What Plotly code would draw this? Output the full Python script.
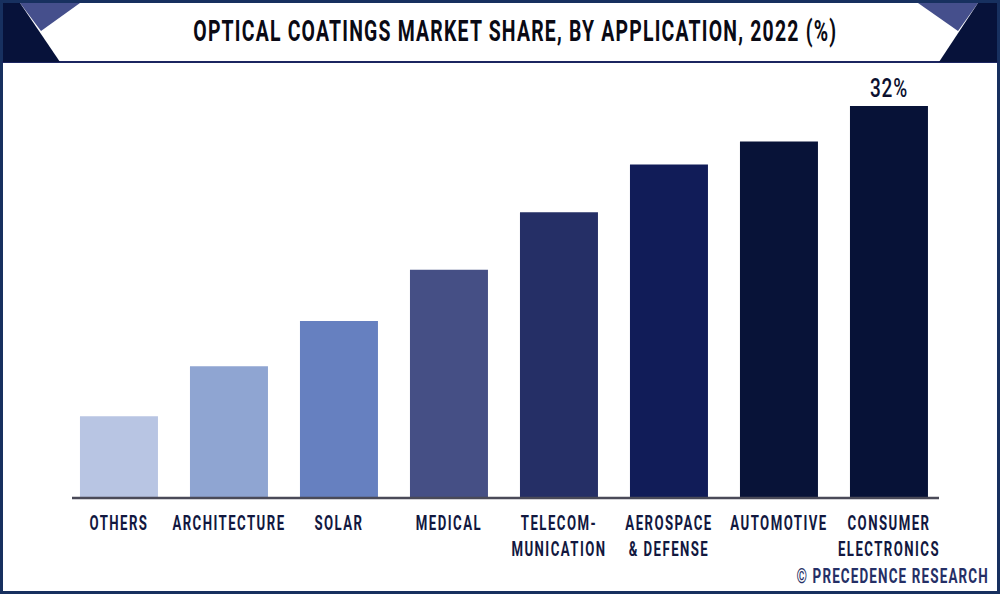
import plotly.graph_objects as go

categories = ["OTHERS", "ARCHITECTURE", "SOLAR", "MEDICAL", "TELECOM-<br>MUNICATION",
              "AEROSPACE<br>& DEFENSE", "AUTOMOTIVE", "CONSUMER<br>ELECTRONICS"]
values = [6.6, 10.7, 14.4, 18.6, 23.3, 27.2, 29.1, 32]
bar_colors = ["#B8C5E3", "#8FA5D2", "#6680C0", "#454F85", "#252F66", "#111C58", "#081338", "#071237"]
value_labels = ["", "", "", "", "", "", "", "32%"]
title_text = "OPTICAL COATINGS MARKET SHARE, BY APPLICATION, 2022 (%)"
credit_text = "© PRECEDENCE RESEARCH"

W, H = 1000, 594
L, R, T, B = 72, 60, 66, 97
FONT = "Roboto"
pw, ph = W - L - R, H - T - B
px = lambda x: (x - L) / pw
py = lambda y: 1 - (y - T) / ph


def poly(points, color):
    path = "M " + " L ".join(f"{px(x):.5f},{py(y):.5f}" for x, y in points) + " Z"
    return dict(type="path", xref="paper", yref="paper", path=path,
                fillcolor=color, line_width=0, layer="above")


def rect(x0, y0, x1, y1, fill, line=None, width=0):
    return dict(type="rect", xref="paper", yref="paper", x0=px(x0), x1=px(x1), y0=py(y0), y1=py(y1),
                fillcolor=fill, line=dict(color=line or fill, width=width), layer="below")


fig = go.Figure(go.Bar(
    x=list(range(len(categories))), y=values, width=0.709,
    marker=dict(color=bar_colors, line_width=0),
    text=value_labels, textposition="outside", cliponaxis=False,
    textfont=dict(family=FONT, size=25, color="#0B1030", weight=500),
))

shapes = [
    rect(1.5, 1.5, 998.5, 592.5, "#FFFFFF", "#17305F", 3),
    dict(type="line", xref="paper", yref="paper", x0=px(2), x1=px(998), y0=py(62), y1=py(62),
         line=dict(color="#1B2560", width=2), layer="above"),
    poly([(20, 3), (80, 3), (41, 31)], "#454F8C"),
    poly([(3, 3), (20, 3), (60, 62), (3, 62)], "#07123A"),
    poly([(918, 3), (978, 3), (958, 31)], "#454F8C"),
    poly([(978, 3), (997, 3), (997, 62), (939, 62)], "#07123A"),
    dict(type="line", xref="paper", yref="paper", x0=px(72), x1=px(939), y0=py(498), y1=py(498),
         line=dict(color="#4A4A58", width=2.4), layer="above"),
]

annotations = [
    dict(xref="paper", yref="paper", x=px(515), y=py(31), text=title_text, showarrow=False,
         font=dict(family=FONT, size=29, color="#0A0A14", weight=700), xanchor="center", yanchor="middle"),
    dict(xref="paper", yref="paper", x=px(892), y=py(576), text=credit_text, showarrow=False,
         font=dict(family=FONT, size=21, color="#252F66", weight=700), xanchor="center", yanchor="middle"),
]

fig.update_layout(
    width=W, height=H, margin=dict(l=L, r=R, t=T, b=B, pad=0),
    paper_bgcolor="#FFFFFF", plot_bgcolor="rgba(0,0,0,0)", showlegend=False,
    shapes=shapes, annotations=annotations,
    xaxis=dict(range=[-0.427, 7.464], tickmode="array", tickvals=list(range(len(categories))),
               ticktext=categories, showgrid=False, zeroline=False, ticks="", showline=False,
               ticklabelstandoff=12,
               tickfont=dict(family=FONT, size=20, color="#12183F", weight=700), tickangle=0),
    yaxis=dict(range=[0, (497 - T) / 12.22], visible=False, showgrid=False, zeroline=False),
)

post = """
document.documentElement.style.margin='0';
document.body.style.margin='0';
var s=document.createElement('style');
s.textContent='.xtick text{letter-spacing:2.2px} .annotation-text{letter-spacing:1.8px} .bartext{letter-spacing:1px}';
document.head.appendChild(s);
function squeeze(el,k){
  var b=el.getBBox();
  var c=b.x+b.width/2;
  var old=el.getAttribute('transform')||'';
  el.setAttribute('transform',old+' translate('+c+',0) scale('+k+',1) translate('+(-c)+',0)');
}
document.querySelectorAll('.xtick text').forEach(function(e){squeeze(e,0.66)});
document.querySelectorAll('.bartext').forEach(function(e){squeeze(e,0.76)});
var a=document.querySelectorAll('.annotation-text');
squeeze(a[0],0.67);
squeeze(a[1],0.64);
"""
fig.write_html("out.html", post_script=post, config={"displayModeBar": False})
